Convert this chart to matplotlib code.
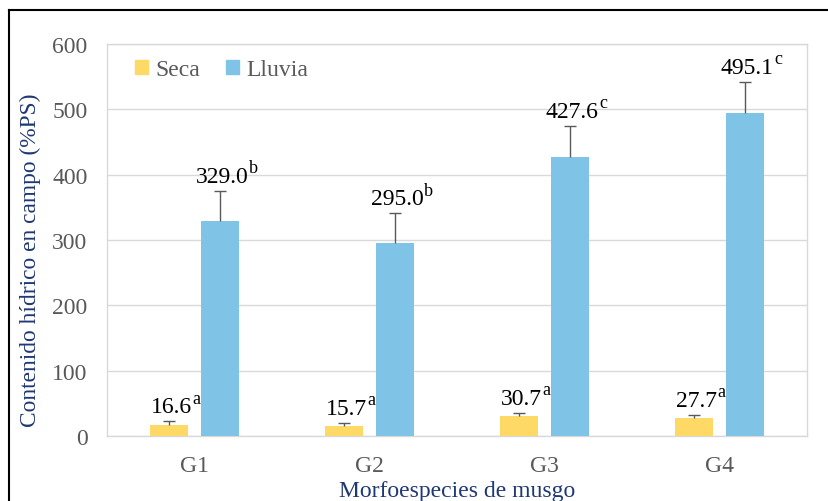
import matplotlib
matplotlib.use("Agg")
import matplotlib.pyplot as plt
import numpy as np
from matplotlib.patches import Patch
from matplotlib.lines import Line2D

plt.rcParams['font.family'] = ['Liberation Serif', 'DejaVu Serif']

categories = ["G1", "G2", "G3", "G4"]
seca = [16.6, 15.7, 30.7, 27.7]
seca_err = [6, 4.5, 4.5, 4.5]
seca_letters = ["a", "a", "a", "a"]
lluvia = [329.0, 295.0, 427.6, 495.1]
lluvia_err = [46, 46, 47, 47]
lluvia_letters = ["b", "b", "c", "c"]
yticks = [0, 100, 200, 300, 400, 500, 600]

c_seca = "#FFD966"
c_lluvia = "#7FC4E6"
gray = "#595959"
navy = "#1F3874"

W, H = 829, 502
fig = plt.figure(figsize=(W/100, H/100), dpi=100)
ax = fig.add_axes([107/W, 1-437/H, 700/W, 392/H])

x = np.arange(len(categories))
w = 0.22
off = 0.145
ax.bar(x - off, seca, w, color=c_seca, zorder=3)
ax.bar(x + off, lluvia, w, color=c_lluvia, zorder=3)
for xs, vals, errs in ((x - off, seca, seca_err), (x + off, lluvia, lluvia_err)):
    eb = ax.errorbar(xs, vals, yerr=[np.zeros(len(vals)), errs], fmt='none', ecolor=gray,
                     elinewidth=1, capsize=4, capthick=1, zorder=4)
    caps = eb[1]
    if len(caps) > 1:
        caps[0].set_visible(False)

def label(xi, top, v, letter):
    t = ax.annotate(f"{v:.1f}", (xi, top), xytext=(1.5, 3),
                    textcoords='offset points', ha='center', va='bottom',
                    fontsize=17, color='black')
    ax.annotate(letter, xy=(1.0, 0.5), xycoords=t, xytext=(0.5, 0), textcoords='offset points',
                ha='left', va='bottom', fontsize=13, color='black')

for xi, v, e, l in zip(x - off, seca, seca_err, seca_letters):
    label(xi, v + e, v, l)
for xi, v, e, l in zip(x + off, lluvia, lluvia_err, lluvia_letters):
    label(xi, v + e, v, l)

ax.set_xlim(-0.5, 3.5)
ax.set_ylim(0, 600)
ax.set_yticks(yticks)
ax.set_xticks(x)
ax.set_xticklabels(categories)
ax.tick_params(axis='both', length=0, labelsize=17, labelcolor=gray)
ax.tick_params(axis='y', pad=14)
ax.tick_params(axis='x', pad=14)
ax.grid(axis='y', color='#D9D9D9', linewidth=1, zorder=0)
for s in ax.spines.values():
    s.set_color('#D9D9D9')
    s.set_linewidth(1)

fig.text(30/W, 1-260/H, "Contenido hídrico en campo (%PS)", rotation=90,
         ha='center', va='center', fontsize=16.8, color=navy)
fig.text(457/W, 1-492/H, "Morfoespecies de musgo", ha='center', va='center',
         fontsize=17, color=navy)

handles = [Patch(color=c_seca, label="Seca"), Patch(color=c_lluvia, label="Lluvia")]
ax.legend(handles=handles, loc='upper left', bbox_to_anchor=(0.01, 1.015), ncol=2,
          frameon=False, fontsize=17, handlelength=0.55, handleheight=0.55,
          handletextpad=0.3, columnspacing=1.1, labelcolor=gray)

# outer frame
fig.add_artist(Line2D([9/W, 1.0], [1-11/H, 1-11/H], transform=fig.transFigure,
                      color='black', linewidth=1.5))
fig.add_artist(Line2D([9/W, 9/W], [1-11/H, 0.0], transform=fig.transFigure,
                      color='black', linewidth=1.5))

fig.savefig("out.png", dpi=100)
